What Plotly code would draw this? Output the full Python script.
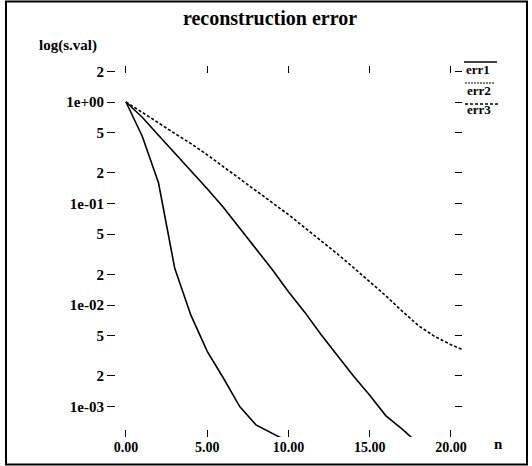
import plotly.graph_objects as go

# ---- data ----
n1 = [0, 1, 2, 3, 4, 5, 6, 7, 8, 9, 10]
err1 = [1.0, 0.46, 0.16, 0.023, 0.0079, 0.0035, 0.0019, 0.0010, 0.00066, 0.00055, 0.00045]

n2 = list(range(0, 19))
err2 = [1.0, 0.708, 0.471, 0.316, 0.209, 0.140, 0.0912, 0.0575, 0.0355, 0.0224,
        0.0135, 0.00851, 0.00513, 0.00316, 0.00200, 0.00129, 0.00081, 0.00060, 0.00043]

n3 = list(range(0, 22))
err3 = [1.0, 0.794, 0.624, 0.490, 0.389, 0.302, 0.229, 0.174, 0.133, 0.102,
        0.0778, 0.0582, 0.0434, 0.0320, 0.0234, 0.0170, 0.0123, 0.0087, 0.00627,
        0.0049, 0.00407, 0.00347]

x_ticks = [0, 5, 10, 15, 20]
x_ticktext = ["0.00", "5.00", "10.00", "15.00", "20.00"]
y_ticks = [2, 1, 0.5, 0.2, 0.1, 0.05, 0.02, 0.01, 0.005, 0.002, 0.001]
y_ticktext = ["2", "1e+00", "5", "2", "1e-01", "5", "2", "1e-02", "5", "2", "1e-03"]

legend_names = ["err1", "err2", "err3"]

# ---- geometry ----
W, H = 532, 466
L, R, T, B = 116, 462, 66, 437
x_range = [-0.615, 20.68]
y_range = [-3.300, 0.3547]

def px(x):
    return (x - L) / (R - L)

def py(y):
    return (B - y) / (B - T)

FONT = "Liberation Serif"
line_w = 1.6

fig = go.Figure()
fig.add_trace(go.Scatter(x=n1, y=err1, mode="lines", name=legend_names[0],
                         line=dict(color="black", width=line_w)))
fig.add_trace(go.Scatter(x=n2, y=err2, mode="lines", name=legend_names[1],
                         line=dict(color="black", width=line_w)))
fig.add_trace(go.Scatter(x=n3, y=err3, mode="lines", name=legend_names[2],
                         line=dict(color="black", width=line_w, dash="3px,2px")))
# helper trace so the mirrored tick axes are drawn
fig.add_trace(go.Scatter(x=[n3[0]], y=[err3[0]], mode="lines", xaxis="x2", yaxis="y2",
                         hoverinfo="skip", showlegend=False, line=dict(width=0)))

xtickfont = dict(family=FONT, size=14, color="black", weight="bold")
ytickfont = dict(family=FONT, size=15, color="black", weight="bold")

fig.update_layout(
    width=W, height=H,
    margin=dict(l=L, r=W - R, t=T, b=H - B, pad=0),
    paper_bgcolor="white", plot_bgcolor="white",
    showlegend=False,
    title=dict(text="reconstruction error", x=270 / W, y=1 - 18 / H,
               xanchor="center", yanchor="middle",
               font=dict(family=FONT, size=20, color="black", weight="bold")),
    xaxis=dict(range=x_range, showgrid=False, zeroline=False, showline=False,
               tickvals=x_ticks, ticktext=x_ticktext, ticks="inside", ticklen=7,
               tickwidth=1, tickcolor="black", tickfont=xtickfont),
    yaxis=dict(type="log", range=y_range, showgrid=False, zeroline=False, showline=False,
               tickvals=y_ticks, ticktext=y_ticktext, ticks="outside", ticklen=8,
               tickwidth=1, tickcolor="black", tickfont=ytickfont),
    xaxis2=dict(range=x_range, overlaying="x", side="top", anchor="y2",
                showgrid=False, zeroline=False, showline=False,
                tickvals=x_ticks, ticks="inside", ticklen=7, tickwidth=1,
                tickcolor="black", showticklabels=False),
    yaxis2=dict(type="log", range=y_range, overlaying="y", side="right", anchor="x2",
                showgrid=False, zeroline=False, showline=False,
                tickvals=y_ticks, ticks="inside", ticklen=7, tickwidth=1,
                tickcolor="black", showticklabels=False),
)

# axis labels
fig.add_annotation(text="log(s.val)", xref="paper", yref="paper", x=px(37), y=py(45),
                   xanchor="left", yanchor="middle", showarrow=False,
                   font=dict(family=FONT, size=15, color="black", weight="bold"))
fig.add_annotation(text="n", xref="paper", yref="paper", x=px(498), y=py(444),
                   xanchor="center", yanchor="middle", showarrow=False,
                   font=dict(family=FONT, size=15, color="black", weight="bold"))

# custom legend: line drawn above each label
leg = [
    (62, 69, 464, 497, "solid", "black"),
    (83, 90, 465, 495, "2px,1px", "#555555"),
    (104, 110, 465, 500, "3px,2px", "black"),
]
for name, (ly, ty, x0, x1, dash, col) in zip(legend_names, leg):
    fig.add_shape(type="line", xref="paper", yref="paper",
                  x0=px(x0), x1=px(x1), y0=py(ly), y1=py(ly),
                  line=dict(color=col, width=1.3, dash=dash))
    fig.add_annotation(text=name, xref="paper", yref="paper", x=px(x0), y=py(ty),
                       xanchor="left", yanchor="middle", showarrow=False,
                       font=dict(family=FONT, size=13, color="black", weight="bold"))

# outer frame
fig.add_shape(type="rect", xref="paper", yref="paper",
              x0=px(6), x1=px(527), y0=py(1.5), y1=py(464.5),
              line=dict(color="black", width=2), fillcolor="rgba(0,0,0,0)")

fig.write_html("out.html", config={"displayModeBar": False},
               post_script="document.body.style.margin='0';document.body.style.overflow='hidden';")
